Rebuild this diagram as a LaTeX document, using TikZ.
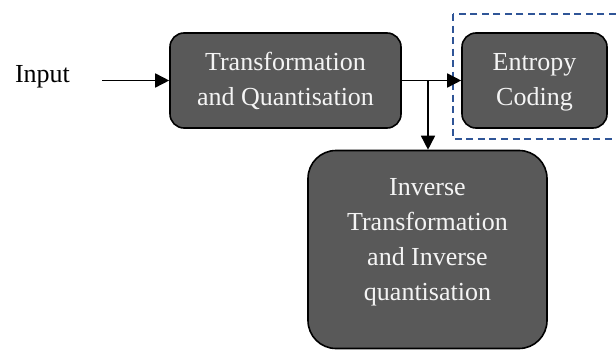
\documentclass[tikz,border=0pt]{standalone}
\usepackage{fontspec}
\setmainfont{Liberation Serif}
\usetikzlibrary{arrows.meta,positioning}
\definecolor{stagefill}{HTML}{595959}
\definecolor{stagetext}{HTML}{F4F4F4}
\definecolor{grouped}{HTML}{2F5597}

\begin{document}
\begin{tikzpicture}[x=0.75pt,y=-0.75pt,
  stage/.style={draw=black,line width=1.2pt,fill=stagefill,text=stagetext,
    rounded corners=10.5pt,align=center,inner sep=0pt,
    font=\fontsize{19.5}{26.25}\selectfont,text height=39.75pt,text depth=1.5pt},
  flow/.style={line width=1.2pt,-{Triangle[length=10.5pt,width=10.5pt]}}]
  \useasboundingbox (0,0) rectangle (616,349);

  % group frame, runs off the right edge
  \draw[grouped,line width=1.1pt,dash pattern=on 5.25pt off 3.4pt] (453,14) rectangle (640,139);

  \node[font=\fontsize{19.5}{26.25}\selectfont,anchor=base] (inp) at (42.5,83) {Input};
  \node[stage,minimum width=173.25pt,minimum height=71.25pt] (tq) at (285.5,80.5) {Transformation\\and Quantisation};
  \node[stage,minimum width=108.75pt,minimum height=71.25pt] (ec) at (534.5,80.5) {Entropy\\Coding};
  \node[stage,minimum width=179.25pt,minimum height=148.5pt,rounded corners=21pt,
    text height=92.25pt,text depth=16.5pt] (iq) at (427.5,249.5)
    {Inverse\\Transformation\\and Inverse\\quantisation};

  \coordinate (inend) at (102,80.5);
  \coordinate (split) at (428,80.5);
  \draw[flow] (inend) -- (tq.west);
  \draw[flow] (tq.east) -- (ec.west);
  \draw[flow] (split) -- (split |- iq.north);
\end{tikzpicture}
\end{document}
